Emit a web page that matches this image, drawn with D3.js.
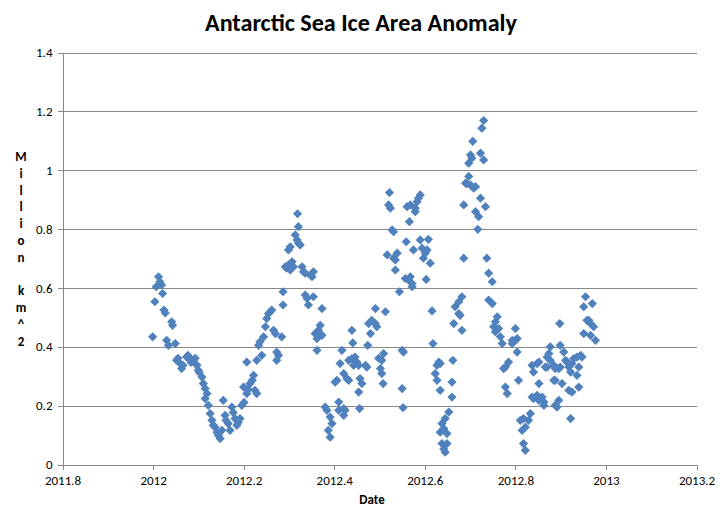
<!DOCTYPE html>
<html>
<head>
<meta charset="utf-8">
<script src="https://cdn.jsdelivr.net/npm/d3@7"></script>
<style>
  html, body { margin: 0; padding: 0; background: #ffffff; }
  svg { display: block; }
  text { font-family: Carlito, Lato, "Open Sans", sans-serif; fill: #000; }
</style>
</head>
<body>
<svg id="chart" width="720" height="521"></svg>
<script>
const title = "Antarctic Sea Ice Area Anomaly";
const xLabel = "Date";
const yLabel = "Million km^2";
const xTicks = [2011.8, 2012, 2012.2, 2012.4, 2012.6, 2012.8, 2013, 2013.2];
const xTickLabels = ["2011.8", "2012", "2012.2", "2012.4", "2012.6", "2012.8", "2013", "2013.2"];
const yTicks = [0, 0.2, 0.4, 0.6, 0.8, 1, 1.2, 1.4];
const yTickLabels = ["0", "0.2", "0.4", "0.6", "0.8", "1", "1.2", "1.4"];

const dates = [
2011.999,2012.004,2012.007,2012.012,2012.015,2012.019,2012.021,2012.024,2012.027,2012.030,
2012.034,2012.041,2012.043,2012.049,2012.052,2012.055,2012.060,2012.063,2012.066,2012.074,
2012.077,2012.082,2012.084,2012.089,2012.093,2012.097,2012.100,2012.102,2012.108,2012.111,
2012.115,2012.119,2012.115,2012.122,2012.126,2012.130,2012.133,2012.137,2012.141,2012.144,
2012.148,2012.152,2012.155,2012.159,2012.161,2012.166,2012.170,2012.174,2012.177,2012.181,
2012.185,2012.188,2012.192,2012.196,2012.200,2012.201,2012.207,2012.207,2012.210,2012.214,
2012.219,2012.222,2012.225,2012.229,2012.229,2012.233,2012.236,2012.240,2012.244,2012.248,
2012.251,2012.255,2012.259,2012.262,2012.266,2012.270,2012.273,2012.277,2012.273,2012.284,
2012.287,2012.287,2012.292,2012.295,2012.299,2012.303,2012.307,2012.310,2012.299,2012.303,
2012.314,2012.318,2012.321,2012.325,2012.321,2012.319,2012.329,2012.332,2012.336,2012.347,
2012.351,2012.354,2012.336,2012.340,2012.343,2012.354,2012.373,2012.369,2012.365,2012.358,
2012.362,2012.373,2012.362,2012.380,2012.384,2012.391,2012.395,2012.387,2012.391,2012.410,
2012.410,2012.421,2012.424,2012.421,2012.417,2012.413,2012.406,2012.402,2012.421,2012.428,
2012.432,2012.439,2012.441,2012.432,2012.439,2012.446,2012.450,2012.443,2012.454,2012.457,
2012.461,2012.454,2012.456,2012.469,2012.472,2012.474,2012.480,2012.476,2012.483,2012.491,
2012.494,2012.491,2012.498,2012.502,2012.505,2012.508,2012.513,2012.509,2012.505,2012.522,
2012.520,2012.524,2012.528,2012.531,2012.517,2012.535,2012.539,2012.531,2012.535,2012.544,
2012.550,2012.553,2012.550,2012.552,2012.557,2012.564,2012.568,2012.572,2012.572,2012.561,
2012.568,2012.579,2012.583,2012.586,2012.590,2012.579,2012.566,2012.559,2012.575,2012.590,
2012.608,2012.594,2012.601,2012.605,2012.597,2012.612,2012.603,2012.616,2012.618,2012.631,
2012.627,2012.623,2012.627,2012.634,2012.634,2012.662,2012.660,2012.660,2012.653,2012.645,
2012.638,2012.642,2012.634,2012.638,2012.649,2012.645,2012.642,2012.649,2012.682,2012.675,
2012.667,2012.675,2012.678,2012.664,2012.682,2012.686,2012.686,2012.690,2012.693,2012.697,
2012.701,2012.708,2012.697,2012.701,2012.704,2012.706,2012.723,2012.730,2012.730,2012.726,
2012.712,2012.723,2012.734,2012.712,2012.719,2012.717,2012.737,2012.741,2012.749,2012.741,
2012.749,2012.760,2012.756,2012.752,2012.763,2012.756,2012.767,2012.771,2012.800,2012.793,
2012.800,2012.804,2012.793,2012.804,2012.785,2012.778,2012.774,2012.778,2012.782,2012.807,
2012.811,2012.818,2012.829,2012.833,2012.815,2012.818,2012.822,2012.822,2012.837,2012.840,
2012.848,2012.852,2012.852,2012.840,2012.848,2012.852,2012.859,2012.863,2012.863,2012.837,
2012.870,2012.874,2012.877,2012.885,2012.896,2012.877,2012.870,2012.866,2012.888,2012.888,
2012.903,2012.896,2012.892,2012.885,2012.888,2012.898,2012.899,2012.907,2012.911,2012.914,
2012.918,2012.922,2012.925,2012.929,2012.936,2012.944,2012.940,2012.936,2012.918,2012.925,
2012.940,2012.947,2012.899,2012.922,2012.955,2012.951,2012.970,2012.958,2012.966,2012.973,
2012.951,2012.966,2012.977,2012.962
];

const values = [
0.434,0.553,0.604,0.638,0.621,0.610,0.581,0.525,0.515,0.422,
0.405,0.485,0.473,0.411,0.354,0.361,0.343,0.326,0.337,0.365,
0.371,0.360,0.347,0.354,0.361,0.337,0.320,0.313,0.297,0.275,
0.258,0.241,0.224,0.201,0.173,0.150,0.133,0.127,0.110,0.099,
0.088,0.116,0.218,0.167,0.150,0.139,0.116,0.195,0.177,0.156,
0.133,0.143,0.156,0.201,0.263,0.211,0.241,0.348,0.255,0.275,
0.286,0.303,0.252,0.241,0.354,0.405,0.417,0.371,0.434,0.468,
0.496,0.513,0.519,0.525,0.456,0.445,0.382,0.371,0.354,0.434,
0.587,0.542,0.672,0.667,0.678,0.661,0.689,0.672,0.729,0.740,
0.780,0.763,0.752,0.746,0.808,0.852,0.672,0.655,0.650,0.644,
0.638,0.655,0.576,0.564,0.542,0.570,0.530,0.473,0.456,0.445,
0.428,0.439,0.388,0.195,0.184,0.161,0.139,0.116,0.093,0.212,
0.184,0.190,0.184,0.167,0.388,0.343,0.286,0.280,0.309,0.292,
0.286,0.456,0.413,0.354,0.360,0.365,0.348,0.337,0.337,0.292,
0.275,0.246,0.190,0.337,0.331,0.405,0.445,0.479,0.490,0.479,
0.468,0.530,0.361,0.326,0.309,0.275,0.519,0.377,0.354,0.924,
0.882,0.871,0.797,0.791,0.712,0.695,0.718,0.701,0.661,0.587,
0.388,0.382,0.258,0.193,0.632,0.627,0.638,0.604,0.615,0.876,
0.882,0.871,0.893,0.905,0.916,0.859,0.825,0.757,0.729,0.763,
0.765,0.735,0.718,0.729,0.701,0.684,0.629,0.522,0.411,0.348,
0.337,0.309,0.286,0.252,0.343,0.354,0.280,0.229,0.178,0.156,
0.139,0.122,0.110,0.071,0.071,0.042,0.053,0.105,0.570,0.553,
0.536,0.513,0.507,0.479,0.456,0.701,0.882,0.956,0.954,0.979,
0.950,0.939,1.024,1.052,1.041,1.098,1.058,1.035,1.169,1.143,
0.944,0.905,0.876,0.859,0.842,0.799,0.701,0.650,0.621,0.559,
0.547,0.502,0.485,0.468,0.462,0.451,0.434,0.411,0.462,0.422,
0.422,0.428,0.411,0.382,0.348,0.331,0.326,0.263,0.241,0.286,
0.150,0.156,0.150,0.173,0.116,0.071,0.048,0.127,0.337,0.314,
0.343,0.348,0.275,0.224,0.235,0.218,0.229,0.212,0.201,0.229,
0.331,0.377,0.400,0.337,0.326,0.354,0.365,0.331,0.326,0.286,
0.275,0.218,0.195,0.286,0.201,0.479,0.405,0.382,0.354,0.348,
0.331,0.314,0.343,0.360,0.365,0.371,0.331,0.303,0.252,0.246,
0.263,0.365,0.331,0.156,0.570,0.536,0.547,0.490,0.479,0.468,
0.445,0.439,0.422,0.490
];

(function () {
const svg = d3.select("#chart");
const W = 720, H = 521;
const plotLeft = 62.5, plotRight = 696.5, plotTop = 52.5, plotBottom = 464.5;
const gridColor = "#878787";
const markerColor = "#4F81BD";
const fontStack = 'Carlito, Lato, "Open Sans", sans-serif';

svg.append("rect").attr("width", W).attr("height", H).attr("fill", "#fff");

const x = d3.scaleLinear().domain([2011.8, 2013.2]).range([plotLeft, plotRight]);
const y = d3.scaleLinear().domain([0, 1.4]).range([plotBottom, plotTop]);

// gridlines
const grid = svg.append("g").attr("class", "grid")
  .attr("transform", `translate(${plotLeft},0)`)
  .call(d3.axisLeft(y).tickValues(yTicks.filter(v => v > 0)).tickSize(-(plotRight - plotLeft)).tickFormat(""));
grid.select(".domain").remove();
grid.selectAll("line").attr("stroke", gridColor).attr("shape-rendering", "crispEdges");

// y axis
const yAxis = svg.append("g")
  .attr("transform", `translate(${plotLeft},0)`)
  .call(d3.axisLeft(y).tickValues(yTicks).tickSize(5).tickPadding(5)
    .tickFormat((d, i) => yTickLabels[i]));
yAxis.select(".domain").attr("stroke", gridColor).attr("shape-rendering", "crispEdges");
yAxis.selectAll(".tick line").attr("stroke", gridColor).attr("shape-rendering", "crispEdges");
yAxis.selectAll(".tick text").attr("font-family", fontStack).attr("font-size", 13).attr("fill", "#000");

// x axis
const xAxis = svg.append("g")
  .attr("transform", `translate(0,${plotBottom})`)
  .call(d3.axisBottom(x).tickValues(xTicks).tickSize(5).tickPadding(6)
    .tickFormat((d, i) => xTickLabels[i]));
xAxis.select(".domain").attr("stroke", gridColor).attr("shape-rendering", "crispEdges");
xAxis.selectAll(".tick line").attr("stroke", gridColor).attr("shape-rendering", "crispEdges");
xAxis.selectAll(".tick text").attr("font-family", fontStack).attr("font-size", 13).attr("fill", "#000");

// markers
const diamond = {
  draw(ctx, size) {
    const r = Math.sqrt(size / 2);
    ctx.moveTo(0, -r); ctx.lineTo(r, 0); ctx.lineTo(0, r); ctx.lineTo(-r, 0); ctx.closePath();
  }
};
const pts = dates.map((d, i) => ({ date: d, value: values[i] }));
svg.append("g").selectAll("path").data(pts).join("path")
  .attr("d", d3.symbol().type(diamond).size(2 * 4.6 * 4.6))
  .attr("transform", d => `translate(${x(d.date)},${y(d.value)})`)
  .attr("fill", markerColor);

// title
const t = svg.append("text")
  .attr("x", 361).attr("y", 31)
  .attr("text-anchor", "middle")
  .attr("font-family", fontStack).attr("font-weight", "bold").attr("font-size", 22)
  .text(title);
const tw = t.node().getComputedTextLength();
if (tw > 0) t.attr("font-size", 22 * 312 / tw);

// x label
svg.append("text")
  .attr("x", 372).attr("y", 504)
  .attr("text-anchor", "middle")
  .attr("font-family", fontStack).attr("font-weight", "bold").attr("font-size", 13)
  .text(xLabel);

// y label stacked vertically
const chars = Array.from(yLabel);
svg.append("g").selectAll("text").data(chars).join("text")
  .attr("x", 21)
  .attr("y", (c, i) => 161 + i * 16.8)
  .attr("text-anchor", "middle")
  .attr("font-family", fontStack).attr("font-weight", "bold").attr("font-size", 13)
  .text(c => c);
})();
</script>
</body>
</html>
